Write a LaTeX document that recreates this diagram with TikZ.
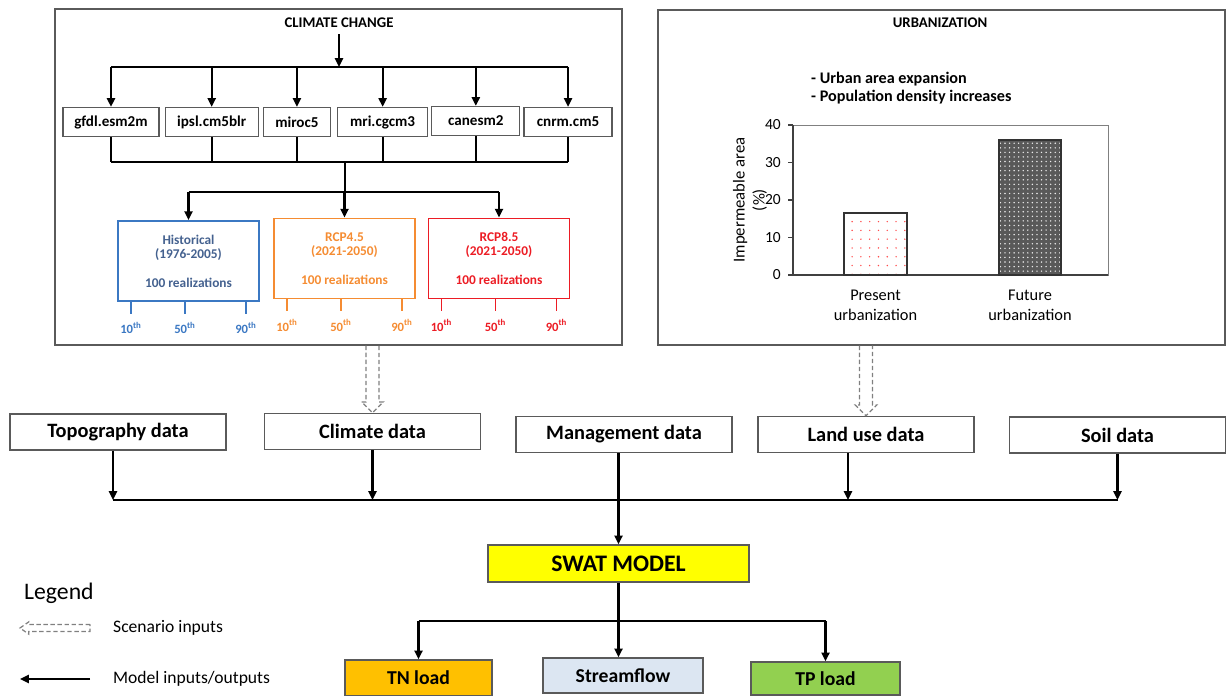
\documentclass[tikz,border=0pt]{standalone}
\usepackage{fontspec}
\setmainfont{Carlito}
\usetikzlibrary{positioning,calc,arrows.meta,patterns.meta}

\definecolor{histblue}{RGB}{59,120,195}
\definecolor{histtext}{RGB}{68,97,143}
\definecolor{rcporange}{RGB}{245,140,50}
\definecolor{rcpred}{RGB}{236,28,36}
\definecolor{swatyellow}{RGB}{255,255,0}
\definecolor{tnorange}{RGB}{255,192,0}
\definecolor{flowblue}{RGB}{220,230,242}
\definecolor{tpgreen}{RGB}{146,208,80}
\definecolor{panelgray}{RGB}{90,90,90}

% hollow dashed arrow from #1 down to #2
\newcommand{\scenarioarrow}[2]{%
  \draw[scenario] let \p1=#1, \p2=#2 in
    (\x1-3.7pt,\y1) -- (\x1-3.7pt,\y2+6.2pt) -- (\x1-6.2pt,\y2+6.2pt) -- (\x1,\y2)
    -- (\x1+6.2pt,\y2+6.2pt) -- (\x1+3.7pt,\y2+6.2pt) -- (\x1+3.7pt,\y1);}

\begin{document}
\begin{tikzpicture}[
    x=0.02cm, y=-0.02cm,
    every node/.style={font=\fontsize{8.4}{10}\selectfont\bfseries},
    panel/.style={draw=panelgray, line width=0.8pt, minimum width=11.34cm, minimum height=6.72cm},
    gcm/.style={draw=panelgray, line width=0.7pt, minimum height=0.58cm, inner sep=0pt,
      font=\fontsize{8.6}{10}\selectfont\bfseries},
    scen/.style={draw=#1, text=#1, line width=1.1pt, minimum width=2.82cm, minimum height=1.6cm,
      align=center, font=\fontsize{7.6}{8}\selectfont\bfseries},
    pct/.style={text=#1, font=\fontsize{7.2}{8}\selectfont\bfseries, inner sep=1pt},
    datbox/.style={draw=panelgray, line width=0.8pt, minimum width=4.32cm, minimum height=0.72cm,
      font=\fontsize{11.6}{13}\selectfont\bfseries},
    outbox/.style={draw=panelgray, line width=0.8pt, fill=#1, minimum height=0.72cm,
      font=\fontsize{11.2}{13}\selectfont\bfseries},
    flow/.style={line width=1.2pt, -{Triangle[length=5pt,width=4.6pt]}},
    line/.style={line width=1.2pt},
    scenario/.style={draw=gray, line width=0.7pt, dash pattern=on 2.5pt off 1.5pt},
    chartlbl/.style={font=\fontsize{9.3}{11.5}\selectfont},
  ]
\useasboundingbox (0,0) rectangle (1227,696);

% panels
\node[panel] (ccpanel) at (338.5,177) {};
\node[panel, minimum height=6.7cm] (urbpanel) at (941.5,177.5) {};

% climate change
\node (cctitle) at (339,23) {CLIMATE CHANGE};
\coordinate (bus1) at (339,67);
\coordinate (bus2) at (345,162);
\coordinate (bus3) at (345,192);

\node[gcm, minimum width=1.92cm] (gfdl) at (111,122) {gfdl.esm2m};
\node[gcm, minimum width=1.86cm, right=0.1cm of gfdl] (ipsl) {ipsl.cm5blr};
\node[gcm, minimum width=1.34cm, right=0.08cm of ipsl] (miroc) {miroc5};
\node[gcm, minimum width=1.8cm, right=0.12cm of miroc] (mri) {mri.cgcm3};
\node[gcm, minimum width=1.76cm, right=0.06cm of mri, yshift=0.02cm] (canesm) {canesm2};
\node[gcm, minimum width=1.76cm, right=0.06cm of canesm, yshift=-0.02cm] (cnrm) {cnrm.cm5};

\draw[flow] (cctitle) -- (bus1);
\draw[line] (gfdl |- bus1) -- (cnrm |- bus1);
\draw[line] (gfdl |- bus2) -- (cnrm |- bus2);
\foreach \m in {gfdl,ipsl,miroc,mri,canesm,cnrm} {
  \draw[flow] (\m |- bus1) -- (\m.north);
  \draw[line] (\m.south) -- (\m |- bus2);
}

\node[scen=histblue, text=histtext] (hist) at (188.5,261) {Historical\\(1976-2005)\\[8.4pt]100 realizations};
\node[scen=rcporange] (rcpa) at (344.5,258.5) {RCP4.5\\(2021-2050)\\[8.4pt]100 realizations};
\node[scen=rcpred] (rcpb) at (499,258.5) {RCP8.5\\(2021-2050)\\[8.4pt]100 realizations};

\draw[line] (bus2) -- (bus3);
\draw[line] (hist |- bus3) -- (rcpb |- bus3);
\foreach \s in {hist,rcpa,rcpb}
  \draw[flow] (\s |- bus3) -- (\s.north);

% percentiles
\foreach \b/\c in {hist/histblue, rcpa/rcporange, rcpb/rcpred} {
  \foreach \dx/\pc in {14/10, 68/50, 129/90} {
    \coordinate (\b t\pc) at ($(\b.south west)+(\dx,0)$);
    \draw[\c, line width=0.8pt] (\b t\pc) -- ++(0,12);
    \node[pct=\c] (\b l\pc) at ($(\b t\pc)+(0,26)$) {\pc\textsuperscript{th}};
  }
}

% urbanization
\node (urbtitle) at (940,23) {URBANIZATION};
\node[anchor=west, align=left, font=\fontsize{9.2}{9.8}\selectfont\bfseries] (urbnotes) at (805,88)
  {- Urban area expansion\\- Population density increases};

\draw[gray, line width=0.5pt] (793,125) rectangle (1108,275);
\draw[black!75, line width=0.6pt] (793,125) -- (793,275) -- (1108,275);
\foreach \v in {0,10,...,40} {
  \draw[black!75, line width=0.6pt] (788,{275-3.75*\v}) -- (793,{275-3.75*\v});
  \node[anchor=east, font=\fontsize{8.8}{10}\selectfont] (yt\v) at (787,{275-3.75*\v}) {\v};
}
\fill[pattern={Dots[distance=5pt,radius=0.45pt]}, pattern color=red!70] (844,275) rectangle (907,{275-16.5*3.75});
\draw[black!80, line width=0.8pt] (844,275) rectangle (907,{275-16.5*3.75});
\fill[black!65] (999,275) rectangle (1061,{275-36*3.75});
\fill[pattern={Dots[distance=2.6pt,radius=0.45pt]}, pattern color=white!85!gray] (999,275) rectangle (1061,{275-36*3.75});
\draw[black!80, line width=0.8pt] (999,275) rectangle (1061,{275-36*3.75});

\node[rotate=90, align=center, font=\fontsize{9.5}{11.5}\selectfont] (ylab) at (750,200) {Impermeable area\\(\%)};
\node[chartlbl, align=center] (present) at (875.5,305) {Present\\urbanization};
\node[chartlbl, align=center] (future) at (1030,305) {Future\\urbanization};

% model inputs
\node[datbox] (topo) at (118,432) {Topography data};
\node[datbox] (climate) at (372.5,431.5) {Climate data};
\node[datbox] (mgmt) at (624,434.5) {Management data};
\node[datbox] (landuse) at (866,434.5) {Land use data};
\node[datbox] (soil) at (1117.5,435) {Soil data};

\scenarioarrow{(ccpanel.south -| climate)}{(climate.north)}
\scenarioarrow{(urbpanel.south -| landuse)}{(landuse.north)}

\node[outbox=swatyellow, minimum width=5.22cm, minimum height=0.74cm,
  font=\fontsize{13.5}{15}\selectfont\bfseries] (swat) at (618.5,563.5) {SWAT MODEL};

\coordinate (bus4) at (618,500);
\draw[line] ($(topo |- bus4)+(-5,0)$) -- (soil |- bus4);
\draw[flow] ($(topo.south)+(-5,0)$) -- ($(topo.south |- bus4)+(-5,0)$);
\foreach \d in {climate,soil}
  \draw[flow] (\d) -- (\d |- bus4);
\draw[flow] ($(landuse.south)+(-18,0)$) -- ($(landuse.south |- bus4)+(-18,0)$);
\draw[flow] (mgmt.south -| swat) -- (swat.north);

% outputs
\node[outbox=tnorange, minimum width=2.94cm] (tn) at (418.5,678) {TN load};
\node[outbox=flowblue, minimum width=3.2cm, minimum height=0.7cm] (stream) at (623,675.5) {Streamflow};
\node[outbox=tpgreen, minimum width=2.98cm, minimum height=0.66cm] (tp) at (825.5,678.5) {TP load};

\coordinate (bus5) at (618,621);
\draw[line] (tn |- bus5) -- (tp |- bus5);
\draw[flow] (swat) -- (swat |- stream.north);
\draw[flow] (tn |- bus5) -- (tn.north);
\draw[flow] (tp |- bus5) -- (tp.north);

% legend
\node[anchor=west, font=\fontsize{13.5}{16}\selectfont] (legend) at (18,593) {Legend};
\coordinate (lgA) at (90,628);
\coordinate (lgB) at (20,628);
\draw[scenario] let \p1=(lgA), \p2=(lgB) in
  (\x1,\y1+2pt) -- (\x2+5pt,\y1+2pt) -- (\x2+5pt,\y1+3.5pt) -- (\x2,\y2)
  -- (\x2+5pt,\y1-3.5pt) -- (\x2+5pt,\y1-2pt) -- (\x1,\y1-2pt) -- cycle;
\node[anchor=west, font=\fontsize{10}{12}\selectfont] (lgscen) at (107,628) {Scenario inputs};
\coordinate (lgC) at (90,679);
\coordinate (lgD) at (20,679);
\draw[flow] (lgC) -- (lgD);
\node[anchor=west, font=\fontsize{10}{12}\selectfont] (lgmodel) at (107,679) {Model inputs/outputs};
\end{tikzpicture}
\end{document}
